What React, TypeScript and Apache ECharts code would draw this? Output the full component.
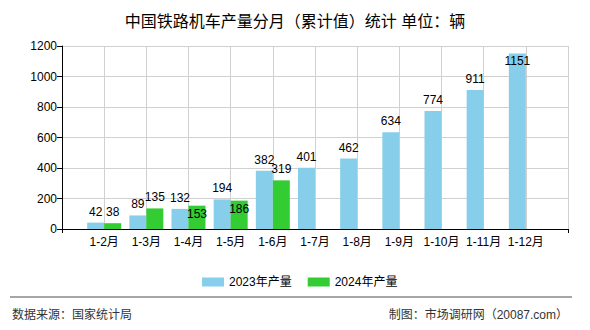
import React, { useEffect, useRef } from "react";
import * as echarts from "echarts";

const categories = ["", "1-2月", "1-3月", "1-4月", "1-5月", "1-6月", "1-7月", "1-8月", "1-9月", "1-10月", "1-11月", "1-12月", ""];
const values2023 = [null, 42, 89, 132, 194, 382, 401, 462, 634, 774, 911, 1151, null];
const values2024 = [null, 38, 135, 153, 186, 319, null, null, null, null, null, null, null];
const inside2023 = [1151];
const inside2024 = [153, 186];
const yTicks = { min: 0, max: 1200, interval: 200 };

const FONT = "'Liberation Sans', 'Noto Sans CJK SC', sans-serif";

function toData(vals: (number | null)[], inside: number[]) {
  return vals.map((v) =>
    v == null
      ? null
      : inside.includes(v)
      ? { value: v, label: { position: "insideTop", distance: 2 } }
      : v
  );
}

export default function App() {
  const ref = useRef<HTMLDivElement>(null);
  useEffect(() => {
    document.body.style.margin = "0";
    const chart = echarts.init(ref.current!, null, { renderer: "svg" });
    chart.setOption({
      animation: false,
      backgroundColor: "#fff",
      title: {
        text: "中国铁路机车产量分月（累计值）统计 单位：辆",
        left: "center",
        top: 8,
        textStyle: { fontSize: 16, fontWeight: "normal", color: "#000", fontFamily: FONT },
      },
      legend: {
        left: 197,
        top: 271,
        itemWidth: 22,
        itemHeight: 9,
        itemGap: 16,
        icon: "rect",
        textStyle: { fontSize: 12, color: "#000", fontFamily: FONT },
        data: ["2023年产量", "2024年产量"],
      },
      grid: { left: 62, right: 22, top: 46, bottom: 101, containLabel: false },
      xAxis: {
        type: "category",
        data: categories,
        boundaryGap: false,
        axisLine: { lineStyle: { color: "#000", width: 1 } },
        axisTick: {
          show: true,
          length: 4,
          interval: (i: number) => i === 0 || i === categories.length - 1,
          lineStyle: { color: "#000" },
        },
        axisLabel: { interval: 0, fontSize: 12, color: "#000", margin: 7, fontFamily: FONT },
        splitLine: { show: true, lineStyle: { color: "#d0d0d0", width: 1 } },
      },
      yAxis: {
        type: "value",
        min: yTicks.min,
        max: yTicks.max,
        interval: yTicks.interval,
        axisLine: { show: true, lineStyle: { color: "#000", width: 1 } },
        axisTick: { show: true, length: 5, lineStyle: { color: "#000" } },
        axisLabel: {
          fontSize: 12,
          color: "#000",
          margin: 5,
          fontFamily: FONT,
          formatter: (v: number) => String(v),
        },
        splitLine: { show: true, lineStyle: { color: "#d0d0d0", width: 1 } },
      },
      series: [
        {
          name: "2023年产量",
          type: "bar",
          data: toData(values2023, inside2023),
          barWidth: 17,
          barGap: "0%",
          itemStyle: { color: "#87CEEB" },
          label: { show: true, position: "top", distance: 5, fontSize: 12, color: "#000", fontFamily: FONT },
        },
        {
          name: "2024年产量",
          type: "bar",
          data: toData(values2024, inside2024),
          barWidth: 17,
          barGap: "0%",
          itemStyle: { color: "#33CC33" },
          label: { show: true, position: "top", distance: 5, fontSize: 12, color: "#000", fontFamily: FONT },
        },
      ],
      graphic: [
        {
          type: "line",
          shape: { x1: 10, y1: 297, x2: 572, y2: 297 },
          style: { stroke: "#888", lineWidth: 1.5 },
        },
        {
          type: "text",
          left: 12,
          top: 309,
          style: { text: "数据来源：国家统计局", fontSize: 12, fill: "#333", fontFamily: FONT },
        },
        {
          type: "text",
          right: 22,
          top: 309,
          style: { text: "制图：市场调研网（20087.com）", fontSize: 12, fill: "#333", fontFamily: FONT },
        },
      ],
    });
    return () => chart.dispose();
  }, []);
  return <div ref={ref} style={{ width: 590, height: 330 }} />;
}
